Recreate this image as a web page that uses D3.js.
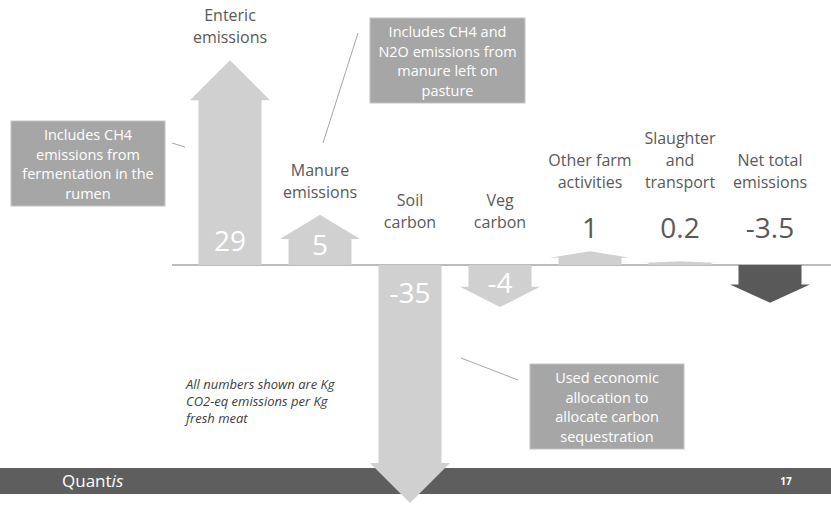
<!DOCTYPE html>
<html>
<head>
<meta charset="utf-8">
<script src="https://cdn.jsdelivr.net/npm/d3@7"></script>
<style>
  body { margin: 0; background: #fff; }
  svg { display: block; font-family: "Open Sans", sans-serif; }
</style>
</head>
<body>
<svg id="chart" width="831" height="508"></svg>
<script>
// data (kg CO2-eq per kg fresh meat)
var categories = ["Enteric", "Manure", "Soil", "Veg", "Other", "Slaughter", "Net"];
var labelLines = [
    ["Enteric", "emissions"],
    ["Manure", "emissions"],
    ["Soil", "carbon"],
    ["Veg", "carbon"],
    ["Other farm", "activities"],
    ["Slaughter", "and", "transport"],
    ["Net total", "emissions"]
];
var values = [29, 5, -35, -4, 1, 0.2, -3.5];
var valueLabels = ["29", "5", "-35", "-4", "1", "0.2", "-3.5"];
var isTotal = [false, false, false, false, false, false, true];

var notes = [
    ["Includes CH4", "emissions from", "fermentation in the", "rumen"],
    ["Includes CH4 and", "N2O emissions from", "manure left on", "pasture"],
    ["Used economic", "allocation to", "allocate carbon", "sequestration"]
];
var footNote = ["All numbers shown are Kg", "CO2-eq emissions per Kg", "fresh meat"];

var svg = d3.select("#chart"),
    width = +svg.attr("width"),
    height = +svg.attr("height");

var baseY = 265;
var textGrey = "#595959";

var x = d3.scalePoint()
    .domain(categories)
    .range([230, 770]);

// arrow length is not linear in the original, a power scale fits it well
var len = d3.scalePow()
    .exponent(0.8)
    .domain([0, 35])
    .range([0, 238]);

var shaftW = 63, headW = 80;

function arrowPath(d, i) {
    var cx = x(categories[i]);
    var L = len(Math.abs(d));
    var dir = d >= 0 ? -1 : 1;
    var head = Math.min(40, L * 0.48);
    var tip = baseY + dir * L;
    var hb = tip - dir * head;
    return "M" + (cx - shaftW / 2) + "," + baseY +
        "L" + (cx - shaftW / 2) + "," + hb +
        "L" + (cx - headW / 2) + "," + hb +
        "L" + cx + "," + tip +
        "L" + (cx + headW / 2) + "," + hb +
        "L" + (cx + shaftW / 2) + "," + hb +
        "L" + (cx + shaftW / 2) + "," + baseY + "Z";
}

// footer bar
svg.append("rect")
    .attr("x", 0).attr("y", 468)
    .attr("width", width).attr("height", 26)
    .attr("fill", "#5e5e5e");

var logo = svg.append("text")
    .attr("x", 62).attr("y", 487)
    .attr("fill", "#fff")
    .attr("font-size", 17);
logo.append("tspan").text("Quant");
logo.append("tspan").attr("font-style", "italic").text("is");

svg.append("text")
    .attr("x", 786).attr("y", 485)
    .attr("text-anchor", "middle")
    .attr("fill", "#fff")
    .attr("font-size", 10)
    .attr("font-weight", "bold")
    .text("17");

// baseline
svg.append("line")
    .attr("x1", 172).attr("x2", width)
    .attr("y1", baseY).attr("y2", baseY)
    .attr("stroke", "#a6a6a6")
    .attr("stroke-width", 1.5);

// arrows
svg.append("g")
    .selectAll("path")
    .data(values)
    .enter().append("path")
    .attr("d", arrowPath)
    .attr("fill", function(d, i) { return isTotal[i] ? "#595959" : "#d0d0d0"; });

// values and labels
var cols = svg.append("g")
    .selectAll("g")
    .data(values)
    .enter().append("g");

cols.each(function(d, i) {
    var g = d3.select(this);
    var cx = x(categories[i]);
    var L = len(Math.abs(d));
    var inside = L > 40;
    var valueY, labelY, valueFill;

    if (inside && d > 0) {
        valueY = baseY - Math.min(14, L * 0.2);
        labelY = baseY - L - 17;
        valueFill = "#fff";
    } else if (inside) {
        valueY = baseY + Math.min(38, L * 0.66);
        labelY = baseY - 37;
        valueFill = "#fff";
    } else {
        valueY = baseY - 27;
        labelY = valueY - 50;
        valueFill = textGrey;
    }

    g.append("text")
        .attr("x", cx).attr("y", valueY)
        .attr("text-anchor", "middle")
        .attr("font-size", 28)
        .attr("fill", valueFill)
        .text(valueLabels[i]);

    var lines = labelLines[i];
    g.selectAll(".lbl")
        .data(lines)
        .enter().append("text")
        .attr("class", "lbl")
        .attr("x", cx)
        .attr("y", function(t, j) { return labelY - (lines.length - 1 - j) * 22; })
        .attr("text-anchor", "middle")
        .attr("font-size", 16)
        .attr("fill", textGrey)
        .text(function(t) { return t; });
});

// callout boxes
var boxes = [
    {x: 11, y: 121, w: 154, h: 85, line: [172, 143, 185, 147]},
    {x: 370, y: 18, w: 155, h: 85, line: [358, 33, 323, 143]},
    {x: 530, y: 364, w: 154, h: 85, line: [461, 358, 518, 380]}
];

boxes.forEach(function(b, k) {
    svg.append("line")
        .attr("x1", b.line[0]).attr("y1", b.line[1])
        .attr("x2", b.line[2]).attr("y2", b.line[3])
        .attr("stroke", "#a6a6a6")
        .attr("stroke-width", 1);

    svg.append("rect")
        .attr("x", b.x).attr("y", b.y)
        .attr("width", b.w).attr("height", b.h)
        .attr("fill", "#a6a6a6")
        .attr("stroke", "#c4c4c4")
        .attr("stroke-width", 1);

    svg.append("g")
        .selectAll("text")
        .data(notes[k])
        .enter().append("text")
        .attr("x", b.x + b.w / 2)
        .attr("y", function(t, j) { return b.y + 19 + j * 19.6; })
        .attr("text-anchor", "middle")
        .attr("font-size", 14.5)
        .attr("fill", "#fff")
        .text(function(t) { return t; });
});

// units note
svg.append("g")
    .selectAll("text")
    .data(footNote)
    .enter().append("text")
    .attr("x", 186)
    .attr("y", function(t, j) { return 389 + j * 17; })
    .attr("font-size", 13)
    .attr("font-style", "italic")
    .attr("fill", "#404040")
    .text(function(t) { return t; });
</script>
</body>
</html>
